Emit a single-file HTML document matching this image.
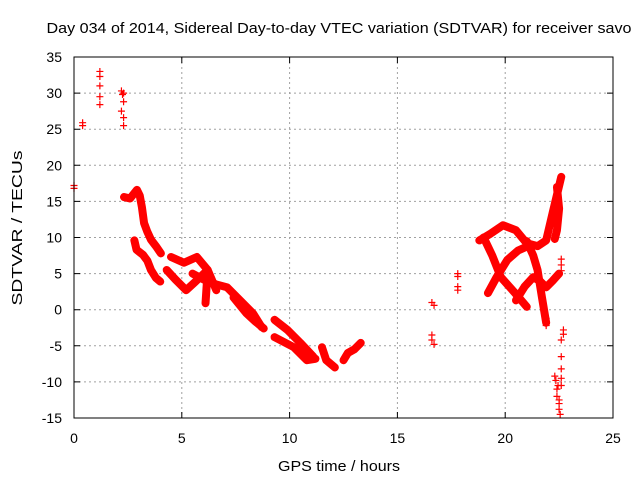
<!DOCTYPE html>
<html><head><meta charset="utf-8"><style>
body{margin:0;background:#fff;}
svg text{font-family:"Liberation Sans",sans-serif;font-size:14px;fill:#000;}
</style></head><body>
<svg id="chart" width="640" height="480" xmlns="http://www.w3.org/2000/svg">
<rect width="640" height="480" fill="#fff"/>
<text x="339" y="33" text-anchor="middle" style="font-size:15px" textLength="585" lengthAdjust="spacingAndGlyphs">Day 034 of 2014, Sidereal Day-to-day VTEC variation (SDTVAR) for receiver savo</text>
<g id="grid"></g>
<g id="ticks"></g>
<g id="marks"></g>
<rect x="74" y="57" width="539" height="361" fill="none" stroke="#000" stroke-width="1"/>
<text transform="translate(22,228) rotate(-90)" text-anchor="middle" style="font-size:15px" textLength="155" lengthAdjust="spacingAndGlyphs">SDTVAR / TECUs</text>
<text x="339" y="471" text-anchor="middle" style="font-size:15px" textLength="122" lengthAdjust="spacingAndGlyphs">GPS time / hours</text>
</svg>
<script>
const xTicks=[0,5,10,15,20,25];
const yTicks=[-15,-10,-5,0,5,10,15,20,25,30,35];
// tracks: [time, sdtvar]
const track1=[[2.32,15.6],[2.6,15.4],[2.92,16.6],[3.05,15.8],[3.15,14.2],[3.25,12.0],[3.4,10.8],[3.57,9.7],[3.8,8.8],[4.03,7.8]];
const track2=[[2.8,9.6],[2.9,8.3],[3.2,7.6],[3.4,6.8],[3.57,5.5],[3.8,4.4],[4.0,3.9]];
const track3=[[4.3,5.5],[4.7,4.2],[5.2,2.7],[5.6,3.8],[6.2,5.5],[6.6,2.7]];
const track4=[[4.5,7.3],[5.1,6.5],[5.7,7.3],[6.2,5.5],[6.1,0.9]];
const track5=[[5.5,5.0],[6.0,4.2],[6.6,3.5],[7.1,3.1],[7.7,1.3],[8.3,-0.5],[8.7,-2.4]];
const track6=[[7.4,1.7],[8.0,-0.5],[8.4,-1.6],[8.8,-2.6]];
const track7=[[9.3,-1.4],[9.9,-2.8],[10.5,-4.6],[11.1,-6.5]];
const track8=[[9.3,-3.8],[10.2,-5.2],[10.8,-7.0],[11.2,-6.8]];
const track9=[[11.5,-5.2],[11.7,-7.0],[12.1,-8.0]];
const track10=[[12.5,-7.0],[12.7,-6.0],[13.0,-5.5],[13.3,-4.6]];
const track11=[[18.8,9.6],[19.3,10.5],[19.9,11.7],[20.5,11.0],[21.0,9.2],[21.5,8.8],[21.9,9.6],[22.2,13.4],[22.6,18.4]];
const track12=[[19.0,10.0],[19.4,7.5],[19.8,4.5],[20.4,2.5],[21.0,0.4]];
const track13=[[19.2,2.3],[19.6,4.5],[20.1,6.9],[20.6,8.2],[21.2,9.0]];
const track14=[[21.0,9.5],[21.3,7.5],[21.5,5.5],[21.7,1.8],[21.9,-1.8]];
const track15=[[20.5,1.3],[20.9,3.2],[21.3,4.5],[21.6,4.0],[21.9,3.1],[22.2,4.0],[22.5,5.0]];
const track16=[[22.4,17.0],[22.5,14.0],[22.4,11.0],[22.3,9.8]];
const tracks=[track1,track2,track3,track4,track5,track6,track7,track8,track9,track10,track11,track12,track13,track14,track15,track16];
const scatter=[[0,17.2],[0,16.8],[0.4,25.5],[0.4,25.9],[1.2,33],[1.2,32.3],[1.2,31],[1.2,29.5],[1.2,28.4],[2.2,30.3],[2.25,29.8],[2.3,28.8],[2.2,27.5],[2.3,26.6],[2.3,25.5],[2.3,30],
[16.6,1.0],[16.7,0.6],[16.6,-3.5],[16.6,-4.2],[16.7,-4.8],[17.8,5.0],[17.8,4.6],[17.8,3.2],[17.8,2.7],
[22.6,7.0],[22.6,6.2],[22.6,5.4],[22.7,-2.8],[22.7,-3.4],[22.6,-4.2],[22.6,-6.5],[22.6,-8.2],[22.6,-9.5],[22.6,-10.5],
[22.3,-9.2],[22.35,-9.8],[22.4,-11],[22.4,-12],[22.5,-13],[22.5,-13.8],[22.55,-14.5],[22.45,-10.5],[22.5,-12.5],[21.9,-1.2],[21.9,-2.2]];
const X=t=>74+t*539/25, Y=v=>57+(35-v)*361/50;
const NS='http://www.w3.org/2000/svg';
function el(tag,attrs,parent){const e=document.createElementNS(NS,tag);for(const k in attrs)e.setAttribute(k,attrs[k]);parent.appendChild(e);return e;}
const grid=document.getElementById('grid'),ticks=document.getElementById('ticks'),marks=document.getElementById('marks');
xTicks.forEach(t=>{
 if(t>0&&t<25){const g=el('line',{x1:X(t),x2:X(t),y1:57,y2:418,stroke:'#a0a0a0','stroke-dasharray':'2,3'},grid);
 
 }
 const tk=el('path',{d:`M${X(t)},418v-6M${X(t)},57v6`,stroke:'#000'},ticks);
 
 
 const lb=el('text',{x:X(t),y:443,'text-anchor':'middle'},ticks);lb.textContent=t;
 
 
});
yTicks.forEach(v=>{
 if(v>-15&&v<35){const g=el('line',{x1:74,x2:613,y1:Y(v),y2:Y(v),stroke:'#a0a0a0','stroke-dasharray':'2,3'},grid);
 
 }
 const tk=el('path',{d:`M74,${Y(v)}h6M613,${Y(v)}h-6`,stroke:'#000'},ticks);
 
 
 const lb=el('text',{x:62,y:Y(v)+5,'text-anchor':'end'},ticks);lb.textContent=v;
 
 
});
function plus(t,v){const p=el('path',{d:`M${X(t)-3.5},${Y(v)}h7M${X(t)},${Y(v)-3.5}v7`,stroke:'#f00','stroke-width':1.2},marks);
 
 }
tracks.forEach(tr=>{
 const pl=el('polyline',{points:tr.map(d=>X(d[0])+','+Y(d[1])).join(' '),fill:'none',stroke:'#f00','stroke-width':8,'stroke-linejoin':'round','stroke-linecap':'round'},marks);
 
 
 tr.forEach(d=>plus(d[0],d[1]));
});
scatter.forEach(d=>plus(d[0],d[1]));
</script>
</body></html>
